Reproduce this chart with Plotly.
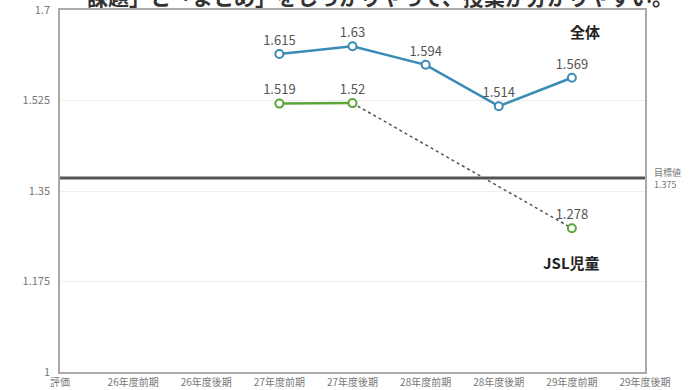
import plotly.graph_objects as go

categories = ["評価", "26年度前期", "26年度後期", "27年度前期", "27年度後期",
              "28年度前期", "28年度後期", "29年度前期", "29年度後期"]
overall = [None, None, None, 1.615, 1.63, 1.594, 1.514, 1.569, None]
jsl = [None, None, None, 1.519, 1.52, None, None, 1.278, None]
target = 1.375
y_ticks = [1, 1.175, 1.35, 1.525, 1.7]
y_tick_labels = ["1", "1.175", "1.35", "1.525", "1.7"]
title_text = "課題」と「まとめ」をしっかりやって、授業が分かりやすい。"

FONT = "Noto Sans CJK JP, Noto Sans, sans-serif"
BLUE = "#3a8bb5"
GREEN = "#5ca53a"

xs = list(range(len(categories)))

fig = go.Figure()

# dotted bridge for JSL across the gap (last point before gap -> next point)
jsl_pts = [(i, v) for i, v in zip(xs, jsl) if v is not None]
bx, by = [], []
for (i0, v0), (i1, v1) in zip(jsl_pts[:-1], jsl_pts[1:]):
    if i1 - i0 > 1:
        bx += [i0, i1, None]
        by += [v0, v1, None]
fig.add_trace(go.Scatter(x=bx, y=by, mode="lines",
                         line=dict(color="#555555", width=1.5, dash="dot"),
                         hoverinfo="skip", showlegend=False))

for vals, col in ((overall, BLUE), (jsl, GREEN)):
    fig.add_trace(go.Scatter(
        x=xs, y=vals, mode="lines+markers+text",
        line=dict(color=col, width=2.5),
        marker=dict(symbol="circle", size=8, color="white", line=dict(color=col, width=2)),
        text=[("%g" % v if v is not None else "") for v in vals],
        textposition="top center",
        textfont=dict(size=13, color="#555555", family=FONT),
        connectgaps=False, showlegend=False))

fig.add_shape(type="line", xref="paper", yref="y", x0=0, x1=1, y0=target, y1=target,
              line=dict(color="#555555", width=3))

fig.add_annotation(xref="paper", yref="y", x=1.012, y=target, xanchor="left", yanchor="middle",
                   text="目標値<br>" + "%g" % target, showarrow=False, align="left",
                   font=dict(size=9, color="#777777", family=FONT))

fig.add_annotation(xref="x", yref="y", x=7.18, y=1.658, text="<b>全体</b>", showarrow=False,
                   font=dict(size=15, color="#222222", family=FONT))
fig.add_annotation(xref="x", yref="y", x=7.0, y=1.212, text="<b>JSL児童</b>", showarrow=False,
                   font=dict(size=15, color="#222222", family=FONT))

fig.add_annotation(xref="paper", yref="paper", x=0.043, y=1.0395, xanchor="left", yanchor="middle",
                   text="<b>" + title_text + "</b>", showarrow=False,
                   font=dict(size=21, color="#333333", family=FONT))

fig.update_layout(
    width=700, height=390,
    margin=dict(l=60, r=55, t=10, b=18),
    plot_bgcolor="white", paper_bgcolor="white",
    font=dict(family=FONT, color="#666666"),
)
fig.update_xaxes(range=[0, 8], tickvals=xs, ticktext=categories, showgrid=False,
                 showline=True, linecolor="#aaaaaa", linewidth=1.5, mirror=True,
                 ticks="", tickfont=dict(size=10, color="#777777"), zeroline=False,
                 automargin=False)
fig.update_yaxes(range=[1, 1.7], tickvals=y_ticks, ticktext=y_tick_labels, showgrid=True,
                 gridcolor="#eeeeee", gridwidth=1, showline=True, linecolor="#aaaaaa",
                 linewidth=1.5, mirror=True, ticks="", ticklabelstandoff=6,
                 tickfont=dict(size=11, color="#777777"), zeroline=False,
                 automargin=False)

fig.write_html("out.html")
